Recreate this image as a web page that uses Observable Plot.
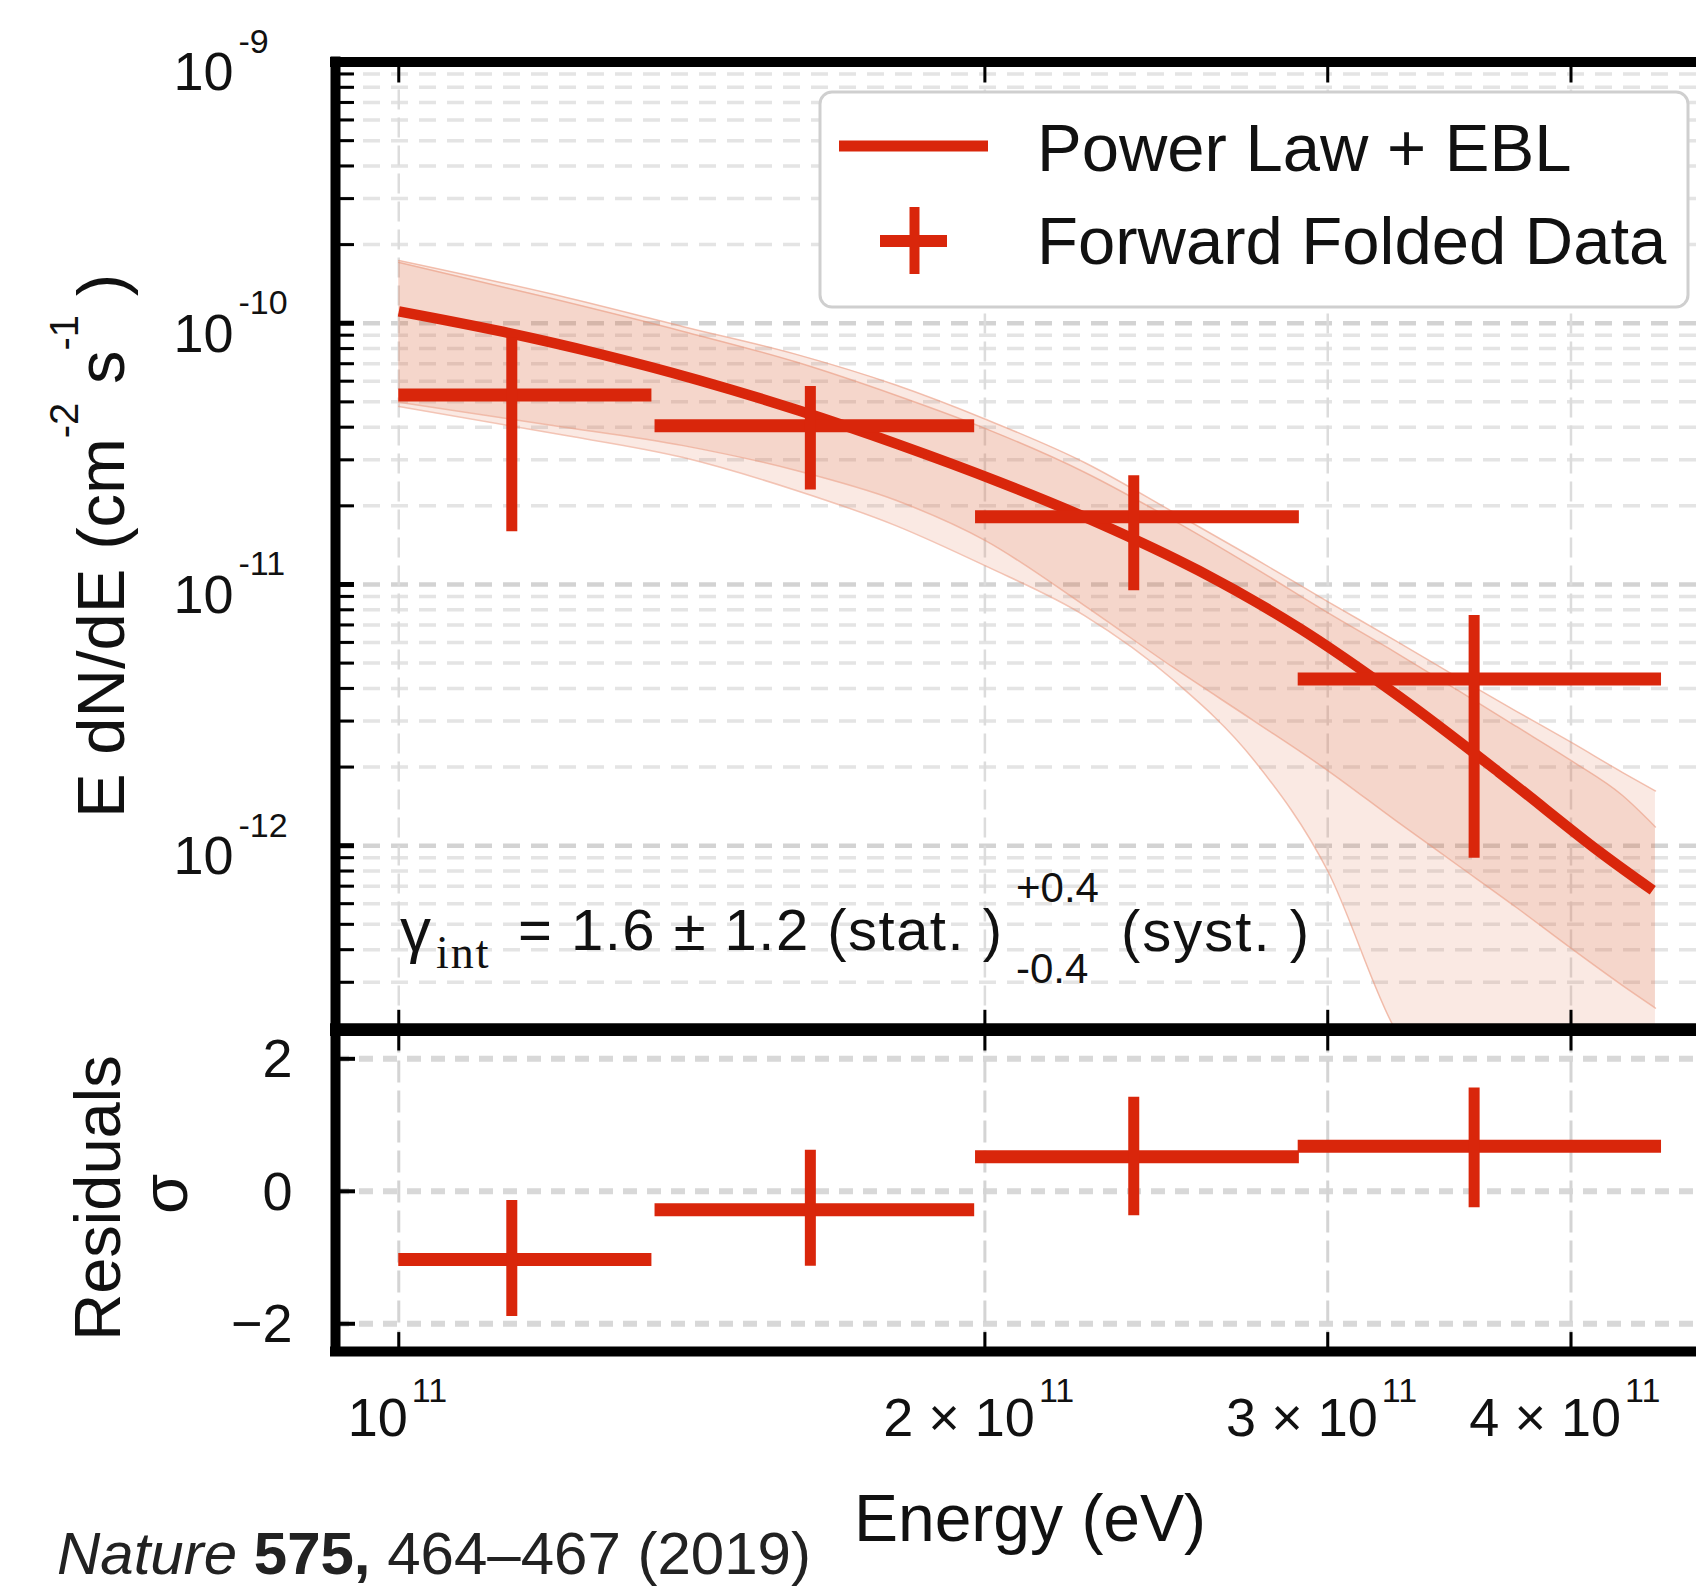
<!DOCTYPE html>
<html><head><meta charset="utf-8">
<script src="https://cdn.jsdelivr.net/npm/d3@7"></script>
<script src="https://cdn.jsdelivr.net/npm/@observablehq/plot@0.6"></script>
<style>
html,body{margin:0;padding:0;background:#fff;}
#wrap{position:relative;width:1696px;height:1589px;overflow:hidden;background:#fff;}
#wrap svg{position:absolute;left:0;top:0;}
</style></head><body><div id="wrap"></div>
<script>
// ---------------- data ----------------
const xDomain = [9.279e10, 4.64e11];
const fluxDomain = [2e-13, 1e-9];
const residDomain = [-2.42, 2.42];

// forward folded data points (energy bins, flux, residuals)
const binCenter = [1.143e11, 1.627e11, 2.385e11, 3.567e11];
const binLow    = [1.0e11, 1.354e11, 1.978e11, 2.897e11];
const binHigh   = [1.349e11, 1.976e11, 2.901e11, 4.452e11];
const flux      = [5.31e-11, 4.05e-11, 1.816e-11, 4.35e-12];
const fluxLow   = [1.59e-11, 2.30e-11, 9.47e-12, 8.95e-13];
const fluxHigh  = [8.8e-11, 5.73e-11, 2.61e-11, 7.60e-12];
const resid     = [-1.03, -0.28, 0.52, 0.68];
const residLow  = [-1.89, -1.13, -0.37, -0.25];
const residHigh = [-0.14, 0.62, 1.42, 1.56];

// Power Law + EBL model curve
const modelE = [1.0e11, 1.1256e11, 1.2667e11, 1.4259e11, 1.6049e11, 1.8064e11, 2.0333e11, 2.2885e11, 2.5758e11, 2.8996e11, 3.263e11, 3.6729e11, 4.134e11, 4.406e11];
const modelF = [1.110e-10, 9.34e-11, 7.64e-11, 6.05e-11, 4.63e-11, 3.43e-11, 2.47e-11, 1.716e-11, 1.129e-11, 6.82e-12, 3.73e-12, 1.91e-12, 9.52e-13, 6.75e-13];

// uncertainty bands
const bandE      = [1.0e11, 1.2e11, 1.4e11, 1.6e11, 1.8e11, 2.0e11, 2.25e11, 2.5e11, 2.75e11, 3.0e11, 3.25e11, 3.5e11, 3.75e11, 4.0e11, 4.25e11, 4.42e11];
const lightUpper = [1.74e-10, 1.29e-10, 9.7e-11, 7.6e-11, 5.8e-11, 4.3e-11, 2.93e-11, 1.89e-11, 1.26e-11, 8.6e-12, 6.1e-12, 4.4e-12, 3.27e-12, 2.49e-12, 1.91e-12, 1.62e-12];
const lightLower = [4.80e-11, 3.79e-11, 3.06e-11, 2.29e-11, 1.68e-11, 1.18e-11, 7.6e-12, 4.3e-12, 2.12e-12, 8.0e-13, 1.97e-13, 1e-13, 1e-13, 1e-13, 1e-13, 1e-13];
const darkUpper  = [1.71e-10, 1.24e-10, 9.3e-11, 7.1e-11, 5.3e-11, 3.96e-11, 2.69e-11, 1.76e-11, 1.16e-11, 7.8e-12, 5.5e-12, 3.93e-12, 2.86e-12, 2.12e-12, 1.56e-12, 1.18e-12];
const darkLower  = [4.98e-11, 4.06e-11, 3.40e-11, 2.73e-11, 2.10e-11, 1.475e-11, 8.3e-12, 4.8e-12, 3.0e-12, 1.94e-12, 1.25e-12, 8.4e-13, 5.8e-13, 4.05e-13, 2.92e-13, 2.39e-13];

// ticks
const xTicks = [1e11, 2e11, 3e11, 4e11];
const xTickPrefix = ["", "2 \u00d7 ", "3 \u00d7 ", "4 \u00d7 "];
const xTickExp = ["11", "11", "11", "11"];
const yMajor = [1e-12, 1e-11, 1e-10, 1e-9];
const yMajorExp = ["-12", "-11", "-10", "-9"];
const residTicks = [-2, 0, 2];
const residTickLabels = ["\u22122", "0", "2"];

// ---------------- drawing ----------------
const W = 1696, H = 1589;
const red = "#d9260b";
const font = "'Liberation Sans', Arial, Helvetica, sans-serif";
const yMinor = [];
for (let k = -13; k <= -10; k++) for (let m = 2; m <= 9; m++) {
  const v = m * Math.pow(10, k);
  if (v >= fluxDomain[0] && v < fluxDomain[1]) yMinor.push(v);
}
const pts = binCenter.map((e, i) => ({e, lo: binLow[i], hi: binHigh[i], f: flux[i], flo: fluxLow[i], fhi: fluxHigh[i], r: resid[i], rlo: residLow[i], rhi: residHigh[i]}));
const model = modelE.map((e, i) => ({e, f: modelF[i]}));
const band = bandE.map((e, i) => ({e, lu: lightUpper[i], ll: lightLower[i], du: darkUpper[i], dl: darkLower[i]}));
const xLab = xTicks.map((v, i) => ({v, pre: xTickPrefix[i], exp: xTickExp[i]}));

const upTop = 61.5, upBottom = 1027.8;
const loTop = 1030.5, loBottom = 1351.1;
const left = 335;
const fw = W - left;
const bandFill = "#e06a45";
const edge = {stroke: "#e9957a", strokeWidth: 1.5, strokeOpacity: 0.55, curve: "monotone-x", clip: true};

const upper = Plot.plot({
  width: W, height: H,
  marginLeft: left, marginRight: 0, marginTop: upTop, marginBottom: H - upBottom,
  x: {type: "log", domain: xDomain, axis: null},
  y: {type: "log", domain: fluxDomain, axis: null},
  style: {background: "transparent", fontFamily: font, overflow: "visible"},
  marks: [
    Plot.ruleY(yMinor, {stroke: "#e4e4e4", strokeWidth: 3.5, strokeDasharray: "17,11"}),
    Plot.ruleY(yMajor, {stroke: "#d3d3d3", strokeWidth: 4.5, strokeDasharray: "17,11"}),
    Plot.ruleX(xTicks, {stroke: "#dcdcdc", strokeWidth: 2.5, strokeDasharray: "20,8"}),
    Plot.areaY(band, {x: "e", y1: "ll", y2: "lu", fill: bandFill, fillOpacity: 0.15, curve: "monotone-x", clip: true}),
    Plot.areaY(band, {x: "e", y1: "dl", y2: "du", fill: bandFill, fillOpacity: 0.15, curve: "monotone-x", clip: true}),
    Plot.line(band, {x: "e", y: "lu", ...edge}),
    Plot.line(band, {x: "e", y: "ll", ...edge}),
    Plot.line(band, {x: "e", y: "du", ...edge}),
    Plot.line(band, {x: "e", y: "dl", ...edge}),
    Plot.line(model, {x: "e", y: "f", stroke: red, strokeWidth: 10.5, curve: "catmull-rom", strokeLinecap: "butt", clip: true}),
    Plot.ruleY(pts, {y: "f", x1: "lo", x2: "hi", stroke: red, strokeWidth: 13}),
    Plot.ruleX(pts, {x: "e", y1: "flo", y2: "fhi", stroke: red, strokeWidth: 11}),
    Plot.tickY(yMinor, {stroke: "#000", strokeWidth: 3, insetRight: fw - 19}),
    Plot.tickY(yMajor, {stroke: "#000", strokeWidth: 5, insetRight: fw - 19}),
    Plot.tickX(xTicks, {stroke: "#000", strokeWidth: 3, insetBottom: (upBottom - upTop) - 21}),
    Plot.tickX(xTicks, {stroke: "#000", strokeWidth: 3, insetTop: (upBottom - upTop) - 18}),
    Plot.ruleY(fluxDomain, {stroke: "#000", strokeWidth: 10, strokeLinecap: "square"}),
    Plot.ruleX([xDomain[0]], {stroke: "#000", strokeWidth: 10, strokeLinecap: "square"}),
    Plot.text(yMajor, {y: d => d, text: () => "10", frameAnchor: "left", dx: -102, dy: 11, textAnchor: "end", fontSize: 54, fill: "#111"}),
    Plot.text(yMajor, {y: d => d, text: (d, i) => yMajorExp[i], frameAnchor: "left", dx: -97, dy: -20, textAnchor: "start", fontSize: 34, fill: "#111"})
  ]
});

const lower = Plot.plot({
  width: W, height: H,
  marginLeft: left, marginRight: 0, marginTop: loTop, marginBottom: H - loBottom,
  x: {type: "log", domain: xDomain, axis: null},
  y: {domain: residDomain, axis: null},
  style: {background: "transparent", fontFamily: font, overflow: "visible"},
  marks: [
    Plot.ruleY(residTicks, {stroke: "#d8d8d8", strokeWidth: 6, strokeDasharray: "14,10"}),
    Plot.ruleX(xTicks, {stroke: "#d4d4d4", strokeWidth: 3, strokeDasharray: "22,8"}),
    Plot.ruleY(pts, {y: "r", x1: "lo", x2: "hi", stroke: red, strokeWidth: 13}),
    Plot.ruleX(pts, {x: "e", y1: "rlo", y2: "rhi", stroke: red, strokeWidth: 11}),
    Plot.tickY(residTicks, {stroke: "#000", strokeWidth: 4, insetRight: fw - 20}),
    Plot.tickX(xTicks, {stroke: "#000", strokeWidth: 3, insetBottom: (loBottom - loTop) - 20}),
    Plot.tickX(xTicks, {stroke: "#000", strokeWidth: 3, insetTop: (loBottom - loTop) - 19}),
    Plot.ruleY(residDomain, {stroke: "#000", strokeWidth: 10, strokeLinecap: "square"}),
    Plot.ruleX([xDomain[0]], {stroke: "#000", strokeWidth: 10, strokeLinecap: "square"}),
    Plot.text(residTicks, {y: d => d, text: (d, i) => residTickLabels[i], frameAnchor: "left", dx: -43, dy: 1, textAnchor: "end", fontSize: 54, fill: "#111"}),
    Plot.text(xLab.filter(d => d.pre === ""), {x: "v", text: d => d.pre + "10", frameAnchor: "bottom", dx: 9, dy: 84, textAnchor: "end", fontSize: 54, fill: "#111"}),
    Plot.text(xLab.filter(d => d.pre === ""), {x: "v", text: "exp", frameAnchor: "bottom", dx: 13, dy: 50, textAnchor: "start", fontSize: 34, fill: "#111"}),
    Plot.text(xLab.filter(d => d.pre !== ""), {x: "v", text: d => d.pre + "10", frameAnchor: "bottom", dx: 50, dy: 84, textAnchor: "end", fontSize: 54, fill: "#111"}),
    Plot.text(xLab.filter(d => d.pre !== ""), {x: "v", text: "exp", frameAnchor: "bottom", dx: 54, dy: 50, textAnchor: "start", fontSize: 34, fill: "#111"})
  ]
});

const wrap = document.getElementById("wrap");
wrap.appendChild(upper);
wrap.appendChild(lower);

// ---------------- overlay: titles, legend, annotation, caption ----------------
const ov = d3.create("svg").attr("width", W).attr("height", H)
  .style("font-family", font).attr("fill", "#111");

// y title (upper)
const yt = ov.append("text").attr("transform", "translate(124,546) rotate(-90)")
  .attr("text-anchor", "middle").attr("font-size", 67);
yt.append("tspan").text("E dN/dE (cm");
yt.append("tspan").attr("dy", -46).attr("font-size", 40).text("-2");
yt.append("tspan").attr("dy", 46).text(" s");
yt.append("tspan").attr("dy", -46).attr("font-size", 40).text("-1");
yt.append("tspan").attr("dy", 46).text(" )");

// y title (lower)
ov.append("text").attr("transform", "translate(120,1198) rotate(-90)")
  .attr("text-anchor", "middle").attr("font-size", 65).text("Residuals");
ov.append("text").attr("transform", "translate(187,1194) rotate(-90)")
  .attr("text-anchor", "middle").attr("font-size", 65).text("\u03c3");

// x title
ov.append("text").attr("x", 1030).attr("y", 1541).attr("text-anchor", "middle")
  .attr("font-size", 66).text("Energy (eV)");

// caption
const cap = ov.append("text").attr("x", 57).attr("y", 1574).attr("font-size", 60).attr("fill", "#222");
cap.append("tspan").attr("font-style", "italic").text("Nature ");
cap.append("tspan").attr("font-weight", "bold").text("575,");
cap.append("tspan").text(" 464\u2013467 (2019)");

// annotation
ov.append("text").attr("x", 400).attr("y", 951).attr("font-size", 62).text("\u03b3");
ov.append("text").attr("x", 436).attr("y", 968).attr("font-size", 46)
  .attr("font-family", "'Liberation Serif', 'Times New Roman', serif").attr("letter-spacing", 2).text("int");
ov.append("text").attr("x", 518).attr("y", 950).attr("font-size", 58)
  .attr("textLength", 484).attr("lengthAdjust", "spacing").text("= 1.6 \u00b1 1.2 (stat. )");
ov.append("text").attr("x", 1016).attr("y", 902).attr("font-size", 42).text("+0.4");
ov.append("text").attr("x", 1016).attr("y", 983).attr("font-size", 42).text("-0.4");
ov.append("text").attr("x", 1121).attr("y", 951).attr("font-size", 58)
  .attr("textLength", 188).attr("lengthAdjust", "spacing").text("(syst. )");

// legend
const lg = ov.append("g");
lg.append("rect").attr("x", 820).attr("y", 92).attr("width", 868).attr("height", 215)
  .attr("rx", 12).attr("fill", "#fff").attr("stroke", "#cfcfcf").attr("stroke-width", 3);
lg.append("line").attr("x1", 839).attr("x2", 988).attr("y1", 146).attr("y2", 146)
  .attr("stroke", red).attr("stroke-width", 11);
lg.append("line").attr("x1", 914.5).attr("x2", 914.5).attr("y1", 207).attr("y2", 274)
  .attr("stroke", red).attr("stroke-width", 10);
lg.append("line").attr("x1", 880).attr("x2", 947).attr("y1", 241).attr("y2", 241)
  .attr("stroke", red).attr("stroke-width", 12);
lg.append("text").attr("x", 1037).attr("y", 171).attr("font-size", 67).text("Power Law + EBL");
lg.append("text").attr("x", 1037).attr("y", 264).attr("font-size", 67).text("Forward Folded Data");

wrap.appendChild(ov.node());
</script></body></html>
